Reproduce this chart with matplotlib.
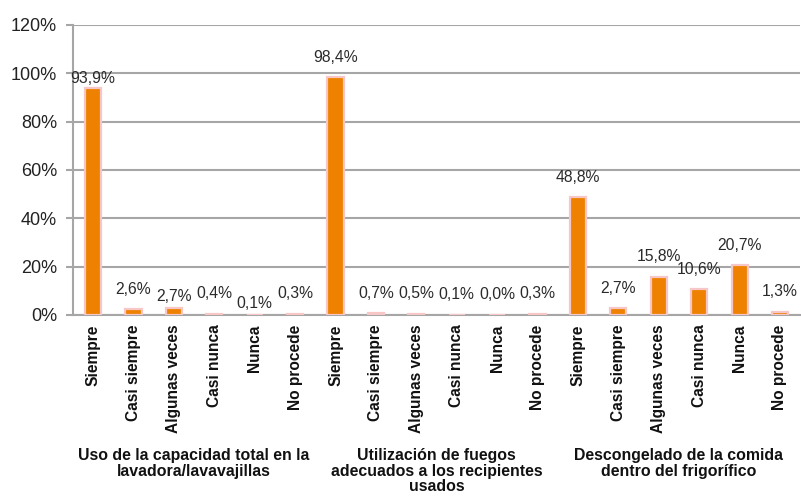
import matplotlib.pyplot as plt
import matplotlib.ticker as mticker
import matplotlib.transforms as mtransforms
import numpy as np

plt.rcParams["font.family"] = ["Liberation Sans", "DejaVu Sans"]

ORANGE = "#EE8200"
PINK = "#F7C6C6"
GRID = "#A6A6A6"

answers = ["Siempre", "Casi siempre", "Algunas veces", "Casi nunca", "Nunca", "No procede"]
groups = ["Uso de la capacidad total en la\nlavadora/lavavajillas",
          "Utilización de fuegos\nadecuados a los recipientes\nusados",
          "Descongelado de la comida\ndentro del frigorífico"]
values = [93.9, 2.6, 2.7, 0.4, 0.1, 0.3,
          98.4, 0.7, 0.5, 0.1, 0.0, 0.3,
          48.8, 2.7, 15.8, 10.6, 20.7, 1.3]
labels = answers * 3

# baseline of each value label, points above the bar top
label_dy = [3.6, 10.8, 5, 11.5, 5, 11.5,
            11, 11, 11.5, 11.5, 11.5, 11.5,
            11, 11, 11, 11, 11, 11]

x = np.arange(len(values))

fig = plt.figure(figsize=(8.01, 4.99), dpi=100)
ax = fig.add_axes([0.091, 0.369, 0.908, 0.581])

ax.bar(x, values, width=0.40, color=ORANGE, edgecolor=PINK, linewidth=1.6, zorder=3)
for xi, v, dy in zip(x, values, label_dy):
    ax.annotate(f"{v:.1f}%".replace(".", ","), (xi, v), textcoords="offset points",
                xytext=(0, dy), ha="center", va="baseline", fontsize=11.3, color="#2a2a2a")

ax.set_ylim(0, 120)
ax.set_xlim(-0.5, len(values) - 0.5)
ax.yaxis.set_major_locator(mticker.MultipleLocator(20))
ax.yaxis.set_major_formatter(mticker.FuncFormatter(lambda v, _: f"{v:.0f}%"))
ax.grid(axis="y", color=GRID, lw=1.5, zorder=0)
ax.set_axisbelow(True)
for s in ("top", "right"):
    ax.spines[s].set_visible(False)
for s in ("left", "bottom"):
    ax.spines[s].set_color(GRID)
    ax.spines[s].set_linewidth(1.5)
ax.tick_params(axis="y", length=5, color=GRID, width=1.5, pad=6.5,
               labelsize=13, labelcolor="#222222")
ax.tick_params(axis="x", length=0, pad=7)
ax.set_xticks(x)
ax.set_xticklabels(labels, rotation=90, fontsize=11.2, fontweight="bold", color="#111111")

trans = mtransforms.blended_transform_factory(ax.transData, ax.transAxes)
for i, g in enumerate(groups):
    gx = i * len(answers) + (len(answers) - 1) / 2
    ax.text(gx, -0.459, g, transform=trans, ha="center", va="top", fontsize=11.4,
            fontweight="bold", color="#111111", linespacing=1.05)

plt.savefig("out.png", dpi=100)
